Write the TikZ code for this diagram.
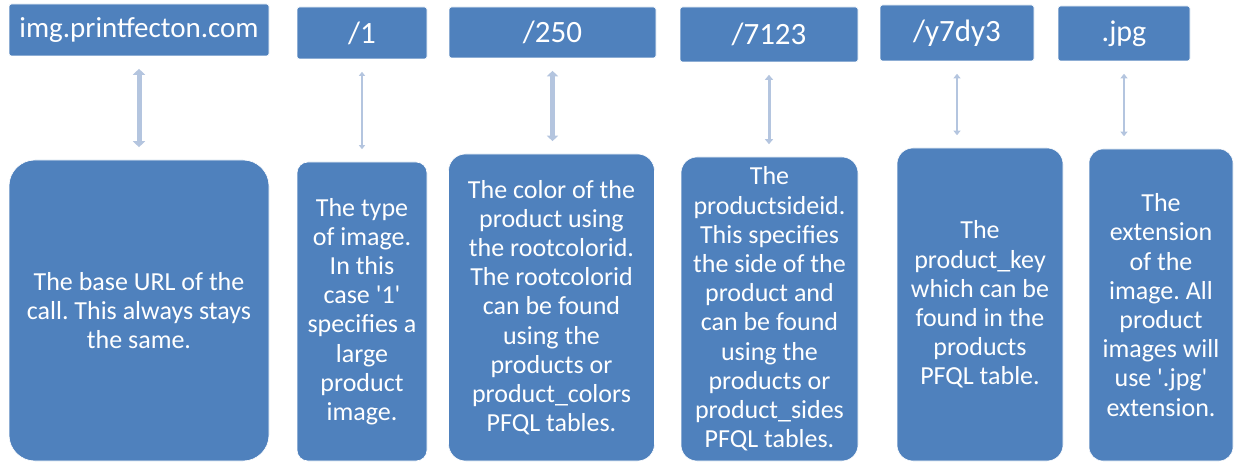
\documentclass[tikz,border=0pt]{standalone}
\usepackage{fontspec}
\setmainfont{Carlito}
\usepackage{tikz}
\usetikzlibrary{arrows.meta}
\definecolor{partblue}{HTML}{4F81BD}
\definecolor{linkgrey}{HTML}{B4C5DF}
\frenchspacing

\begin{document}
\begin{tikzpicture}[x=1pt,y=-1pt]
		\tikzstyle{urlpart}=[draw=white,line width=0.6pt,fill=partblue,rectangle,rounded corners=2.5pt,text=white,inner sep=0pt,align=center]
		\tikzstyle{partinfo}=[urlpart,font=\fontsize{26}{29.2}\selectfont]
		\tikzstyle{link}=[draw=linkgrey,shorten <=12.5pt,shorten >=12.5pt]

		\useasboundingbox (0,0) rectangle (1235,462);

		\node[urlpart,minimum width=260,minimum height=52,font=\fontsize{29}{32}\selectfont] (host) at (139,30) {img.printfecton.com};
		\node[urlpart,minimum width=130,minimum height=52,font=\fontsize{31}{32}\selectfont] (size) at (362,33) {/1};
		\node[urlpart,minimum width=207,minimum height=51,font=\fontsize{31}{32}\selectfont] (color) at (552.5,32.5) {/250};
		\node[urlpart,minimum width=178,minimum height=55,font=\fontsize{31}{32}\selectfont] (side) at (769,34.5) {/7123};
		\node[urlpart,minimum width=154,minimum height=56,font=\fontsize{31}{32}\selectfont] (key) at (957,33) {/y7dy3};
		\node[urlpart,minimum width=132,minimum height=55,font=\fontsize{30}{32}\selectfont] (ext) at (1124,33.5) {.jpg};

		\node[partinfo,minimum width=260,minimum height=301,rounded corners=26pt] (hostinfo) at (139,310.5)
			{The base URL of the\\call. This always stays\\the same.};
		\node[partinfo,minimum width=130,minimum height=299,rounded corners=11pt] (sizeinfo) at (362,311.5)
			{The type\\of image.\\In this\\case \textquotesingle1\textquotesingle\\specifies a\\large\\product\\image.};
		\node[partinfo,minimum width=206,minimum height=307,rounded corners=17pt] (colorinfo) at (551.5,307.5)
			{The color of the\\product using\\the rootcolorid.\\The rootcolorid\\can be found\\using the\\products or\\product\_colors\\PFQL tables.};
		\node[partinfo,minimum width=177,minimum height=304,rounded corners=16pt] (sideinfo) at (769.5,309)
			{The\\productsideid.\\This specifies\\the side of the\\product and\\can be found\\using the\\products or\\product\_sides\\PFQL tables.};
		\node[partinfo,minimum width=166,minimum height=313,rounded corners=16pt] (keyinfo) at (980,304.5)
			{The\\product\_key\\which can be\\found in the\\products\\PFQL table.};
		\node[partinfo,minimum width=144,minimum height=312,rounded corners=14pt] (extinfo) at (1161,305)
			{The\\extension\\of the\\image. All\\product\\images will\\use \textquotesingle.jpg\textquotesingle\\extension.};

		\draw[link,line width=5pt,{Triangle[length=6pt,width=12pt]}-{Triangle[length=6pt,width=12pt]}] (host) -- (hostinfo);
		\draw[link,line width=2pt,{Triangle[length=4pt,width=6pt]}-{Triangle[length=4pt,width=6pt]}] (size) -- (sizeinfo);
		\draw[link,line width=4.5pt,{Triangle[length=5.5pt,width=11pt]}-{Triangle[length=5.5pt,width=11pt]}] (color) -- (color |- colorinfo.north);
		\draw[link,line width=3pt,{Triangle[length=5pt,width=8pt]}-{Triangle[length=5pt,width=8pt]}] (side) -- (side |- sideinfo.north);
		\draw[link,line width=2.5pt,{Triangle[length=4.5pt,width=7pt]}-{Triangle[length=4.5pt,width=7pt]}] (key) -- (key |- keyinfo.north);
		\draw[link,line width=2.5pt,{Triangle[length=4.5pt,width=7pt]}-{Triangle[length=4.5pt,width=7pt]}] (ext) -- (ext |- extinfo.north);

\end{tikzpicture}
\end{document}
